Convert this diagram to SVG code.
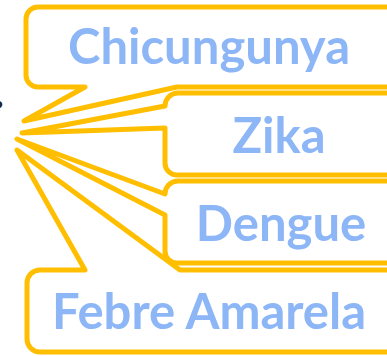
<svg xmlns="http://www.w3.org/2000/svg" width="387" height="356" viewBox="0 0 387 356">
<style>
.bubble{fill:#ffffff;stroke:#FFBF00;stroke-width:5;stroke-linejoin:round}
.label{font-family:Lato,"Liberation Sans",sans-serif;font-weight:bold;font-size:49px;fill:#8DB6F7;text-anchor:middle}
</style>
<rect width="387" height="356" fill="#ffffff"/>
<text x="3" y="116" font-family="Lato, 'Liberation Sans', sans-serif" font-weight="bold" font-size="20" fill="#222222" text-anchor="end">?</text>
<g id="connectors"></g>
<g id="node-chicungunya">
<path class="bubble" d="M38,7 H398 V87 H177 L24,121 L85,87 H38 A12,12 0 0 1 26,75 V19 A12,12 0 0 1 38,7 Z"/>
<text class="label" x="209" y="64">Chicungunya</text>
</g>
<g id="node-zika">
<path class="bubble" d="M165,106 A13,13 0 0 1 178,93 H398 V175 H177 A12,12 0 0 1 165,163 V128 L22,133 Z"/>
<text class="label" x="279" y="153">Zika</text>
</g>
<g id="node-dengue">
<path class="bubble" d="M165,194 A13,13 0 0 1 178,181 H398 V263 H177 A12,12 0 0 1 165,251 V215 L17,139 Z"/>
<text class="label" x="281" y="241">Dengue</text>
</g>
<g id="node-febre-amarela">
<path class="bubble" d="M40,270 H85 L17,150 L180,270 H398 V352 H40 A13,13 0 0 1 27,339 V283 A13,13 0 0 1 40,270 Z"/>
<text class="label" x="209" y="329">Febre Amarela</text>
</g>
</svg>
